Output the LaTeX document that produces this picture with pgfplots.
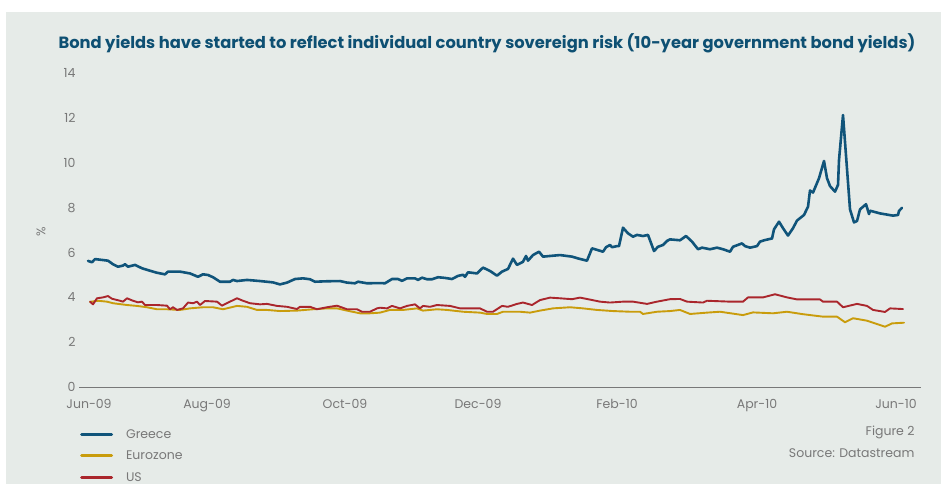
\documentclass[border=0pt]{standalone}
\usepackage{fontspec}
\setmainfont{Poppins}
\usepackage{pgfplots}
\pgfplotsset{compat=1.18}
\definecolor{bgc}{RGB}{230,235,232}
\definecolor{greece}{RGB}{16,84,122}
\definecolor{euro}{RGB}{201,156,12}
\definecolor{usc}{RGB}{170,38,44}
\definecolor{titlec}{RGB}{14,80,115}
\definecolor{txt}{RGB}{120,120,120}
\begin{document}
\begin{tikzpicture}[x=1pt,y=1pt]
\useasboundingbox (0,0) rectangle (941,484);
\fill[white] (0,0) rectangle (941,484);
\fill[bgc] (6,0) rectangle (941,472);
\node[text=titlec, font=\fontsize{16.3}{18}\selectfont\bfseries] at (487,441) {Bond yields have started to reflect individual country sovereign risk (10-year government bond yields)};
\node[text=txt, anchor=east, font=\fontsize{12.5}{14}\selectfont] at (918,52) {Figure 2};
\node[text=txt, anchor=east, font=\fontsize{12.5}{14}\selectfont] at (918,31) {Source: Datastream};
\begin{axis}[
  at={(79pt,97pt)}, anchor=south west,
  scale only axis, width=842pt, height=313.6pt,
  xmin=-10, xmax=832, ymin=0, ymax=14,
  axis x line*=bottom, axis y line*=left,
  y axis line style={draw=none},
  x axis line style={draw=txt, line width=0.8pt},
  major tick length=0pt,
  xtick={0,118,256,389,528,668,807},
  xticklabels={Jun-09,Aug-09,Oct-09,Dec-09,Feb-10,Apr-10,Jun-10},
  ytick={0,2,...,14},
  /pgf/number format/assume math mode=true,
  tick label style={text=txt, font=\fontsize{12.5}{14}\selectfont},
  xticklabel style={yshift=-9pt},
  ylabel={\%},
  ylabel style={text=txt, font=\fontsize{12.5}{14}\selectfont, at={(axis description cs:-0.045,0.494)}, anchor=center},
  legend style={at={(axis description cs:0.001,-0.134)}, anchor=north west, draw=none, fill=none,
     font=\fontsize{12.5}{14}\selectfont, text=txt, inner sep=0pt, row sep=11.5pt, column sep=13pt,
     nodes={inner sep=0pt, text height=9pt, text depth=1pt}},
  legend cell align=left,
  legend image code/.code={\draw[#1, line width=3pt] (0pt,0pt) -- (30pt,0pt);},
  every axis plot/.append style={line join=round, line cap=round},
]
\addplot[greece, line width=2.6pt] table {
x y
-1 5.63
3 5.57
6 5.71
19 5.64
24 5.48
29 5.37
34 5.42
36 5.48
39 5.37
46 5.45
53 5.30
61 5.19
68 5.10
76 5.03
79 5.15
91 5.15
101 5.07
109 4.92
114 5.03
119 5.00
124 4.90
131 4.70
141 4.70
144 4.78
148 4.73
158 4.78
171 4.73
184 4.67
191 4.58
198 4.66
206 4.82
214 4.85
221 4.81
226 4.70
238 4.72
251 4.73
258 4.66
266 4.63
269 4.70
278 4.63
291 4.64
296 4.63
303 4.82
309 4.82
313 4.74
318 4.85
326 4.85
329 4.78
333 4.88
338 4.81
343 4.81
349 4.90
356 4.87
363 4.82
369 4.96
374 5.01
376 4.92
379 5.12
388 5.07
394 5.33
401 5.18
408 4.97
413 5.15
419 5.27
424 5.73
428 5.45
434 5.59
437 5.85
439 5.64
444 5.89
450 6.04
454 5.82
471 5.89
483 5.82
489 5.74
498 5.64
503 6.19
514 6.04
517 6.24
521 6.34
523 6.24
528 6.29
530 6.29
534 7.11
539 6.86
544 6.71
548 6.79
554 6.74
559 6.79
565 6.07
569 6.26
574 6.34
578 6.52
581 6.59
591 6.55
597 6.74
603 6.49
609 6.15
613 6.22
621 6.15
628 6.22
634 6.15
641 6.04
644 6.26
653 6.41
656 6.29
661 6.22
668 6.29
671 6.49
676 6.56
683 6.63
685 7.04
690 7.38
694 7.09
699 6.76
704 7.09
708 7.43
715 7.68
719 8.05
721 8.77
724 8.68
730 9.32
735 10.09
738 9.32
741 8.97
746 8.72
749 9.02
750 10.13
754 12.14
761 7.93
765 7.35
768 7.41
771 7.93
777 8.16
780 7.72
781 7.87
791 7.75
804 7.65
809 7.68
810 7.86
813 8.00
};
\addlegendentry{Greece}
\addplot[euro, line width=1.9pt] table {
x y
1 3.80
9 3.85
18 3.81
24 3.74
38 3.66
48 3.62
58 3.56
68 3.47
78 3.47
91 3.44
101 3.51
114 3.56
124 3.56
134 3.47
148 3.62
158 3.58
168 3.44
178 3.44
191 3.39
208 3.41
224 3.47
238 3.51
248 3.51
258 3.41
271 3.29
281 3.29
291 3.32
301 3.44
314 3.44
328 3.51
334 3.41
348 3.47
358 3.44
374 3.36
391 3.32
398 3.26
408 3.26
414 3.36
431 3.36
441 3.32
451 3.41
464 3.51
481 3.56
494 3.51
508 3.44
524 3.39
541 3.36
551 3.36
554 3.26
568 3.36
581 3.39
591 3.44
601 3.26
618 3.32
631 3.36
654 3.21
664 3.33
684 3.29
698 3.36
714 3.25
734 3.14
748 3.14
756 2.89
764 3.07
778 2.96
788 2.81
796 2.69
803 2.84
815 2.87
};
\addlegendentry{Eurozone}
\addplot[usc, line width=1.9pt] table {
x y
1 3.81
4 3.69
8 3.96
14 4.00
19 4.06
23 3.94
31 3.85
34 3.81
38 3.96
44 3.85
49 3.78
53 3.81
56 3.66
68 3.66
78 3.63
81 3.47
84 3.56
88 3.44
94 3.51
99 3.77
104 3.74
108 3.81
111 3.66
116 3.84
128 3.81
133 3.63
141 3.81
148 3.96
154 3.85
161 3.74
171 3.69
178 3.71
188 3.62
198 3.58
208 3.48
211 3.58
221 3.58
228 3.47
238 3.56
248 3.63
258 3.47
268 3.47
273 3.36
281 3.36
288 3.51
291 3.54
298 3.51
303 3.62
311 3.51
318 3.62
326 3.69
331 3.51
334 3.62
341 3.58
348 3.66
361 3.62
371 3.51
391 3.51
398 3.36
404 3.36
413 3.62
419 3.58
428 3.71
434 3.77
443 3.66
451 3.88
461 3.99
471 3.96
483 3.92
491 3.99
499 3.92
511 3.81
521 3.77
534 3.81
544 3.81
558 3.71
568 3.81
581 3.92
591 3.93
598 3.81
614 3.77
618 3.85
641 3.81
654 3.81
659 4.00
674 4.00
686 4.14
698 4.00
708 3.91
718 3.91
731 3.91
734 3.81
748 3.81
754 3.56
768 3.71
778 3.62
784 3.44
796 3.35
801 3.51
814 3.48
};
\addlegendentry{US}
\end{axis}
\end{tikzpicture}
\end{document}
